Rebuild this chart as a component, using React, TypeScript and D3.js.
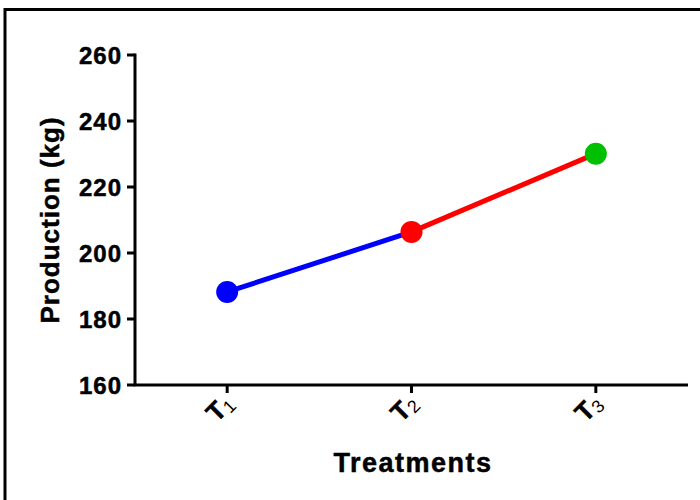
import React from "react";
import * as d3 from "d3";

const categories = ["T1", "T2", "T3"];
const subscripts = ["1", "2", "3"];
const values = [188.2, 206.4, 230.1];
const pointColors = ["#0000FF", "#FF0000", "#00C000"];
const segmentColors = ["#0000FF", "#FF0000"];
const yTicks = [160, 180, 200, 220, 240, 260];

const W = 700;
const H = 500;
const FONT = "'Liberation Sans', Arial, Helvetica, sans-serif";

export default function App() {
  const x = d3.scalePoint<string>().domain(categories).range([135, 688]).padding(0.5);
  const y = d3.scaleLinear().domain([160, 260]).range([385, 55]);
  const line = d3.line<number>().y((d) => y(d));

  const segments = values.slice(0, -1).map((v, i) => ({
    d: line.x((_, j) => x(categories[i + j]) as number)([v, values[i + 1]]),
    color: segmentColors[i],
  }));

  const xAxisY = y(160);
  const yAxisX = 135;
  const heavy = { stroke: "#000", strokeWidth: 0.5 };

  return (
    <svg
      width={W}
      height={H}
      style={{ position: "absolute", left: 0, top: 0, background: "#fff" }}
      fontFamily={FONT}
    >
      <rect x={0} y={0} width={W} height={H} fill="#fff" />
      {/* outer frame */}
      <rect x={5} y={9.5} width={W + 20} height={H + 20} fill="none" stroke="#000" strokeWidth={3} />

      {/* y axis */}
      <line x1={yAxisX} x2={yAxisX} y1={y(260) - 1.5} y2={xAxisY} stroke="#000" strokeWidth={3} />
      {yTicks.map((t) => (
        <g key={t}>
          <line x1={yAxisX - 8} x2={yAxisX} y1={y(t)} y2={y(t)} stroke="#000" strokeWidth={3} />
          <text
            x={yAxisX - 13}
            y={y(t)}
            dy="0.36em"
            textAnchor="end"
            fontSize={24}
            fontWeight="bold"
            letterSpacing={1}
            {...heavy}
          >
            {t}
          </text>
        </g>
      ))}

      {/* x axis */}
      <line x1={yAxisX - 1.5} x2={688} y1={xAxisY} y2={xAxisY} stroke="#000" strokeWidth={3} />
      {categories.map((c, i) => {
        const cx = x(c) as number;
        return (
          <g key={c}>
            <line x1={cx} x2={cx} y1={xAxisY} y2={xAxisY + 8} stroke="#000" strokeWidth={3} />
            <text
              transform={`translate(${cx + 8},${xAxisY + 20}) rotate(-45)`}
              textAnchor="end"
              fontSize={26}
              fontWeight="bold"
              {...heavy}
            >
              T
              <tspan fontSize={18} fontWeight="normal" dy={3} strokeWidth={0}>
                {subscripts[i]}
              </tspan>
            </text>
          </g>
        );
      })}

      {/* titles */}
      <text
        transform={`translate(59,220) rotate(-90)`}
        textAnchor="middle"
        fontSize={26}
        fontWeight="bold"
        letterSpacing={1}
        {...heavy}
      >
        Production (kg)
      </text>
      <text
        x={413}
        y={472}
        textAnchor="middle"
        fontSize={27}
        fontWeight="bold"
        letterSpacing={1.5}
        {...heavy}
      >
        Treatments
      </text>

      {/* lines */}
      {segments.map((s, i) => (
        <path key={i} d={s.d || ""} fill="none" stroke={s.color} strokeWidth={5} />
      ))}
      {/* markers */}
      {values.map((v, i) => (
        <circle key={i} cx={x(categories[i]) as number} cy={y(v)} r={11} fill={pointColors[i]} />
      ))}
    </svg>
  );
}
